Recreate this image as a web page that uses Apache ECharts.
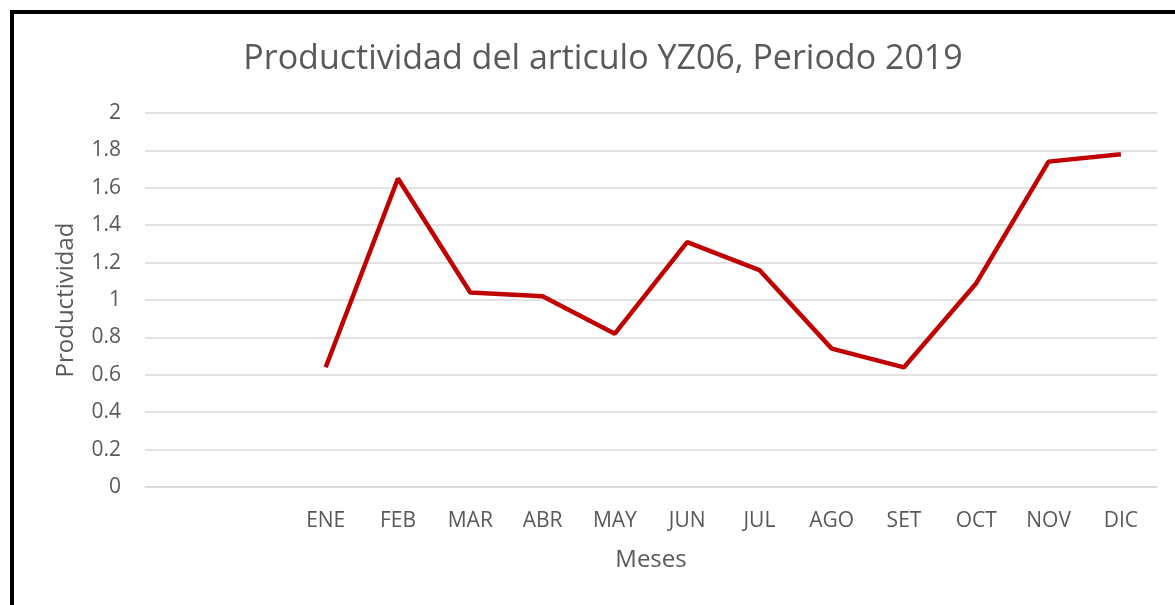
<!DOCTYPE html>
<html>
<head>
<meta charset="utf-8">
<script src="https://cdn.jsdelivr.net/npm/echarts@6/dist/echarts.min.js"></script>
<style>
html,body{margin:0;padding:0;overflow:hidden;background:#fff;}
#chart{position:absolute;left:0;top:0;width:1175px;height:605px;}
#frame{position:absolute;left:10px;top:10px;width:1200px;height:700px;border:4px solid #000;pointer-events:none;}
</style>
</head>
<body>
<div id="chart"></div>
<div id="frame"></div>
<script>
const titleText = 'Productividad del articulo YZ06, Periodo 2019';
const categories = ['', '', 'ENE', 'FEB', 'MAR', 'ABR', 'MAY', 'JUN', 'JUL', 'AGO', 'SET', 'OCT', 'NOV', 'DIC'];
const productividad = [null, null, 0.64, 1.65, 1.04, 1.02, 0.82, 1.31, 1.16, 0.74, 0.64, 1.09, 1.74, 1.78];
const xAxisName = 'Meses';
const yAxisName = 'Productividad';

const font = '"Open Sans", sans-serif';
const chart = echarts.init(document.getElementById('chart'));
chart.setOption({
  animation: false,
  title: {
    text: titleText,
    left: 598, top: 37, textAlign: 'center',
    textStyle: {fontFamily: font, fontSize: 34, fontWeight: 'normal', color: '#595959'}
  },
  grid: {left: 145, right: 18, top: 113, bottom: 118},
  xAxis: {
    type: 'category',
    data: categories,
    boundaryGap: true,
    name: xAxisName,
    nameLocation: 'middle',
    nameGap: 61,
    nameTextStyle: {fontFamily: font, fontSize: 24, color: '#595959'},
    axisLine: {lineStyle: {color: '#d9d9d9', width: 1.5}},
    axisTick: {show: false},
    axisLabel: {interval: 0, margin: 24, fontFamily: font, fontSize: 21, color: '#595959'}
  },
  yAxis: {
    type: 'value',
    min: 0, max: 2, interval: 0.2,
    name: yAxisName,
    nameLocation: 'middle',
    nameGap: 67,
    nameRotate: 90,
    nameTextStyle: {fontFamily: font, fontSize: 24, color: '#595959'},
    axisLine: {show: false},
    axisTick: {show: false},
    axisLabel: {margin: 24, fontFamily: font, fontSize: 21, color: '#595959',
      formatter: v => String(Math.round(v * 10) / 10)},
    splitLine: {lineStyle: {color: '#d9d9d9', width: 1.5}}
  },
  series: [{
    type: 'line',
    data: productividad,
    showSymbol: false,
    connectNulls: false,
    lineStyle: {color: '#C00000', width: 4.5},
    itemStyle: {color: '#C00000'}
  }]
});
</script>
</body>
</html>
